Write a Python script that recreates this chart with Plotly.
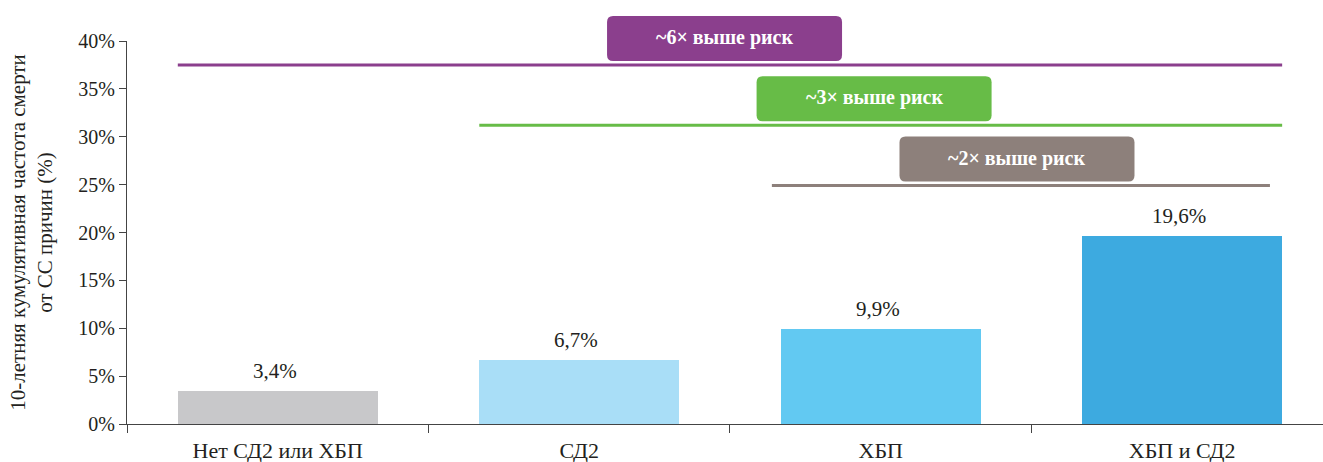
import plotly.graph_objects as go

# Data
categories = ["Нет СД2 или ХБП", "СД2", "ХБП", "ХБП и СД2"]
values = [3.4, 6.7, 9.9, 19.6]
bar_colors = ["#c8c8ca", "#a9def7", "#62c9f2", "#3daae0"]
y_ticks = [0, 5, 10, 15, 20, 25, 30, 35, 40]
y_tick_labels = [f"{v}%" for v in y_ticks]

# Risk comparisons against the last group
risk_labels = ["~6× выше риск", "~3× выше риск", "~2× выше риск"]
risk_levels = [37.5, 31.2, 24.9]
risk_colors = ["#8b3f8d", "#67bc47", "#8d807b"]

FONT = "Liberation Serif, Times New Roman, serif"
TEXT_COLOR = "#231f20"
BAR_WIDTH = 0.663
X_RANGE = [-0.5, 3.467]
Y_RANGE = [0, 40]

fig = go.Figure()
fig.add_trace(go.Bar(
    x=list(range(len(categories))),
    y=values,
    width=BAR_WIDTH,
    marker=dict(color=bar_colors, line=dict(width=0)),
    hoverinfo="skip",
    showlegend=False,
))

# Value labels above bars
for i, v in enumerate(values):
    fig.add_annotation(
        x=i, y=v, xref="x", yref="y",
        text=f"{v:.1f}%".replace(".", ","),
        showarrow=False, yanchor="bottom", yshift=6, xshift=-3,
        font=dict(family=FONT, size=21, color=TEXT_COLOR),
    )

# Horizontal comparison lines (x extents in category units)
line_spans = [(-BAR_WIDTH / 2, 3 + BAR_WIDTH / 2),
              (1 - BAR_WIDTH / 2, 3 + BAR_WIDTH / 2),
              (1.639, 3.291)]
# Label box centres (category units)
box_centres = [1.482, 1.978, 2.452]
BOX_W, BOX_H, R = 235, 45, 6


def rounded_rect(w, h, r, bottom):
    x0, x1 = -w / 2, w / 2
    y0, y1 = bottom, bottom + h
    return (f"M{x0 + r},{y0} L{x1 - r},{y0} Q{x1},{y0} {x1},{y0 + r} "
            f"L{x1},{y1 - r} Q{x1},{y1} {x1 - r},{y1} L{x0 + r},{y1} "
            f"Q{x0},{y1} {x0},{y1 - r} L{x0},{y0 + r} Q{x0},{y0} {x0 + r},{y0} Z")


def to_paper_x(c):
    return (c - X_RANGE[0]) / (X_RANGE[1] - X_RANGE[0])


for label, level, color, (xs, xe), cx in zip(
        risk_labels, risk_levels, risk_colors, line_spans, box_centres):
    fig.add_shape(type="line", xref="x", yref="y", x0=xs, x1=xe, y0=level, y1=level,
                  line=dict(color=color, width=3), layer="above")
    fig.add_shape(type="path", xref="paper", yref="paper",
                  xsizemode="pixel", ysizemode="pixel",
                  xanchor=to_paper_x(cx), yanchor=level / Y_RANGE[1],
                  path=rounded_rect(BOX_W, BOX_H, R, 4),
                  fillcolor=color, line=dict(width=0), layer="above")
    fig.add_annotation(
        x=cx, y=level / Y_RANGE[1], xref="x", yref="paper",
        text=f"<b>{label}</b>", showarrow=False,
        xanchor="center", yanchor="middle", yshift=4 + BOX_H / 2 + 1,
        font=dict(family=FONT, size=20, color="white"),
    )

fig.update_layout(
    width=1323, height=462,
    margin=dict(l=127, r=0, t=41, b=38),
    paper_bgcolor="white", plot_bgcolor="white",
    font=dict(family=FONT, color=TEXT_COLOR),
    bargap=0,
    xaxis=dict(
        range=X_RANGE,
        tickmode="array",
        tickvals=list(range(len(categories))),
        ticktext=categories,
        ticks="",
        showline=True, linecolor="#444", linewidth=1,
        showgrid=False, zeroline=False,
        tickfont=dict(family=FONT, size=22, color=TEXT_COLOR),
        ticklabelstandoff=7,
    ),
    xaxis2=dict(
        overlaying="x", matches="x", range=X_RANGE,
        tickmode="array", tickvals=[-0.5, 0.5, 1.5, 2.5],
        showticklabels=False, ticks="outside", ticklen=8,
        tickcolor="#444", tickwidth=1,
        showline=False, showgrid=False, zeroline=False,
        side="bottom",
    ),
    yaxis=dict(
        range=Y_RANGE,
        tickmode="array", tickvals=y_ticks, ticktext=y_tick_labels,
        ticks="outside", ticklen=7, tickcolor="#444", tickwidth=1,
        showline=True, linecolor="#444", linewidth=1,
        showgrid=False, zeroline=False,
        tickfont=dict(family=FONT, size=20, color=TEXT_COLOR),
        title=dict(
            text="10-летняя кумулятивная частота смерти<br>от СС причин (%)",
            font=dict(family=FONT, size=21, color=TEXT_COLOR),
            standoff=19,
        ),
    ),
)

# Invisible trace to activate the boundary-tick axis
fig.add_trace(go.Scatter(x=[0], y=[0], xaxis="x2", mode="markers",
                         marker=dict(opacity=0), hoverinfo="skip", showlegend=False))

fig.write_html("out.html")
